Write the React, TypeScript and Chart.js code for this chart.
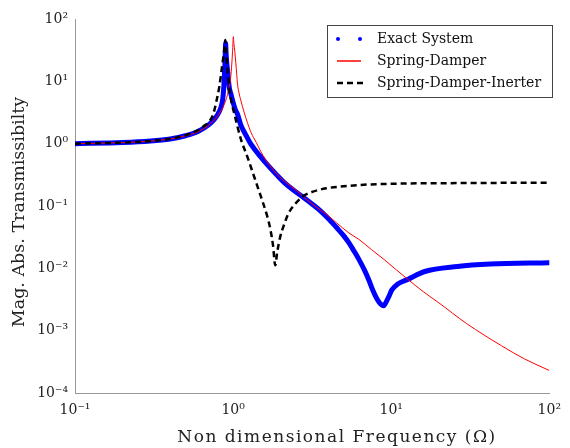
import React, { useEffect, useRef } from 'react';
import { Chart, registerables } from 'chart.js';

Chart.register(...registerables);

const FONT = "'DejaVu Serif', serif";

// Exact System
const exactOmega = [0.1, 0.2, 0.3, 0.4, 0.5, 0.6, 0.7, 0.76, 0.8, 0.84, 0.86, 0.873, 0.882, 0.889, 0.893, 0.897, 0.902, 0.91, 0.925, 0.946, 0.968, 1.0, 1.03, 1.07, 1.118, 1.2, 1.29, 1.49, 1.7, 1.893, 2.1, 2.406, 2.843, 3.2, 3.524, 4.0, 4.48, 5.0, 5.42, 5.8, 6.26, 6.8, 7.22, 7.7, 8.15, 8.6, 8.96, 9.3, 9.7, 10.1, 11, 12.8, 16.3, 26.2, 42.4, 100];
const exactMag = [1.0, 1.04, 1.1, 1.19, 1.34, 1.57, 2.0, 2.45, 2.95, 3.9, 5.2, 8, 13, 20, 30, 41, 30, 21, 14, 8, 6.3, 4.6, 3.6, 2.9, 2.0, 1.4, 1.0, 0.62, 0.42, 0.313, 0.24, 0.18, 0.132, 0.105, 0.086, 0.063, 0.046, 0.0335, 0.0254, 0.0192, 0.0138, 0.0092, 0.0065, 0.0043, 0.0032, 0.00266, 0.0025, 0.0029, 0.0036, 0.0045, 0.0056, 0.0067, 0.0089, 0.0107, 0.0117, 0.0123];

// Spring-Damper
const sdOmega = [0.1, 0.2, 0.3, 0.4, 0.5, 0.6, 0.7, 0.8, 0.85, 0.9, 0.946, 0.97, 0.985, 0.995, 1.003, 1.012, 1.025, 1.04, 1.054, 1.067, 1.09, 1.118, 1.174, 1.23, 1.3, 1.4, 1.5, 1.7, 1.9, 2.2, 2.5, 2.84, 3.3, 3.88, 4.5, 5.4, 6.26, 7.5, 9, 10.6, 12.8, 16, 20, 30, 50, 70, 100];
const sdMag = [1.0, 1.04, 1.1, 1.19, 1.33, 1.56, 1.97, 2.8, 3.6, 5.0, 8.2, 13, 22, 35, 52, 40, 30, 20, 13, 9, 6.5, 5.0, 3.2, 2.2, 1.5, 1.05, 0.74, 0.45, 0.32, 0.23, 0.18, 0.135, 0.1, 0.074, 0.054, 0.037, 0.029, 0.02, 0.0139, 0.0098, 0.0066, 0.0042, 0.0028, 0.0013, 0.00057, 0.00035, 0.00023];

// Spring-Damper-Inerter
const sdiOmega = [0.1, 0.2, 0.3, 0.4, 0.5, 0.6, 0.65, 0.71, 0.75, 0.78, 0.82, 0.848, 0.87, 0.885, 0.893, 0.9, 0.914, 0.93, 0.946, 0.98, 1.017, 1.118, 1.23, 1.355, 1.46, 1.564, 1.64, 1.72, 1.788, 1.848, 1.9, 1.986, 2.1, 2.239, 2.5, 2.778, 3.2, 3.88, 5, 6.26, 10.6, 20, 50, 100];
const sdiMag = [1.0, 1.04, 1.1, 1.2, 1.37, 1.65, 1.9, 2.3, 3.0, 4.5, 8.5, 16, 26, 38, 46, 35, 19.5, 12, 7.5, 4.5, 3.06, 1.2, 0.62, 0.302, 0.173, 0.103, 0.07, 0.0426, 0.0236, 0.0112, 0.018, 0.032, 0.05, 0.076, 0.112, 0.144, 0.17, 0.192, 0.207, 0.217, 0.228, 0.232, 0.235, 0.236];

const seriesLabels = ['Exact System', 'Spring-Damper', 'Spring-Damper-Inerter'];
const seriesColors = ['#0000ff', '#ff0000', '#000000'];
const xTickValues = [0.1, 1, 10, 100];
const yTickValues = [1e-4, 1e-3, 1e-2, 1e-1, 1, 10, 100];
const xTitle = 'Non dimensional Frequency (Ω)';
const yTitle = 'Mag. Abs. Transmissibilty';

const SUP: Record<string, string> = { '-': '⁻', '0': '⁰', '1': '¹', '2': '²', '3': '³', '4': '⁴', '5': '⁵', '6': '⁶', '7': '⁷', '8': '⁸', '9': '⁹' };
function powLabel(v: number): string {
  const e = Math.round(Math.log10(v));
  return '10' + String(e).split('').map((c) => SUP[c] || c).join('');
}

function toPoints(xs: number[], ys: number[]) {
  return xs.map((x, i) => ({ x, y: ys[i] }));
}

const axisTitles = {
  id: 'axisTitles',
  afterDraw(chart: any) {
    const ctx = chart.ctx as any;
    ctx.save();
    ctx.fillStyle = '#222222';
    ctx.textAlign = 'center';
    ctx.textBaseline = 'alphabetic';
    ctx.font = `17px ${FONT}`;
    if ('letterSpacing' in ctx) ctx.letterSpacing = '1.5px';
    ctx.fillText(xTitle, 337, 442);
    if ('letterSpacing' in ctx) ctx.letterSpacing = '0px';
    ctx.font = `17.5px ${FONT}`;
    ctx.translate(24, 212);
    ctx.rotate(-Math.PI / 2);
    ctx.fillText(yTitle, 0, 0);
    ctx.restore();
  },
};

const boxLegend = {
  id: 'boxLegend',
  afterDatasetsDraw(chart: any) {
    const ctx = chart.ctx as CanvasRenderingContext2D;
    const ds = chart.data.datasets;
    ctx.save();
    const x0 = 327.5, y0 = 25.5, w = 225, h = 72;
    ctx.fillStyle = '#ffffff';
    ctx.fillRect(x0, y0, w, h);
    ctx.strokeStyle = '#444444';
    ctx.lineWidth = 1;
    ctx.setLineDash([]);
    ctx.strokeRect(x0, y0, w, h);
    const rows = [39, 61, 83];
    const mx0 = 337, mx1 = 361, tx = 377;
    ctx.fillStyle = seriesColors[0];
    [338, 360].forEach((cx) => {
      ctx.beginPath();
      ctx.arc(cx, rows[0], 2, 0, Math.PI * 2);
      ctx.fill();
    });
    ctx.strokeStyle = seriesColors[1];
    ctx.lineWidth = 1.5;
    ctx.beginPath();
    ctx.moveTo(mx0, rows[1]);
    ctx.lineTo(mx1, rows[1]);
    ctx.stroke();
    ctx.strokeStyle = seriesColors[2];
    ctx.lineWidth = 2.5;
    ctx.setLineDash([6, 4]);
    ctx.beginPath();
    ctx.moveTo(mx0, rows[2]);
    ctx.lineTo(mx1 + 2, rows[2]);
    ctx.stroke();
    ctx.setLineDash([]);
    ctx.fillStyle = '#111111';
    ctx.font = `14px ${FONT}`;
    ctx.textBaseline = 'middle';
    ctx.textAlign = 'left';
    ds.forEach((d: any, i: number) => ctx.fillText(d.label, tx, rows[i]));
    ctx.restore();
  },
};

export default function App() {
  const ref = useRef<HTMLCanvasElement | null>(null);
  useEffect(() => {
    if (!ref.current) return;
    const chart = new Chart(ref.current, {
      type: 'line',
      data: {
        datasets: [
          {
            label: seriesLabels[0],
            data: toPoints(exactOmega, exactMag),
            borderColor: seriesColors[0],
            borderWidth: 5,
            pointRadius: 0,
            cubicInterpolationMode: 'monotone',
            borderJoinStyle: 'round',
            borderCapStyle: 'round',
            order: 3,
          },
          {
            label: seriesLabels[1],
            data: toPoints(sdOmega, sdMag),
            borderColor: seriesColors[1],
            borderWidth: 1,
            pointRadius: 0,
            cubicInterpolationMode: 'monotone',
            order: 2,
          },
          {
            label: seriesLabels[2],
            data: toPoints(sdiOmega, sdiMag),
            borderColor: seriesColors[2],
            borderWidth: 2.5,
            borderDash: [6, 4],
            pointRadius: 0,
            cubicInterpolationMode: 'monotone',
            order: 1,
          },
        ],
      } as any,
      options: {
        animation: false,
        responsive: false,
        maintainAspectRatio: false,
        layout: { padding: { top: 19, right: 13, left: 0, bottom: 0 } },
        plugins: { legend: { display: false }, tooltip: { enabled: false } },
        scales: {
          x: {
            type: 'logarithmic',
            min: 0.1,
            max: 100,
            afterBuildTicks: (s: any) => {
              s.ticks = xTickValues.map((v) => ({ value: v }));
            },
            afterFit: (s: any) => {
              s.height = 55;
            },
            ticks: {
              callback: (v: any) => powLabel(Number(v)),
              font: { family: FONT, size: 14 },
              color: '#222222',
              padding: 9,
              maxRotation: 0,
              autoSkip: false,
            },
            grid: { color: 'rgba(0,0,0,0)', drawTicks: false },
            border: { display: true, color: '#999999', width: 1 },
            title: { display: false },
          },
          y: {
            type: 'logarithmic',
            min: 1e-4,
            max: 100,
            afterBuildTicks: (s: any) => {
              s.ticks = yTickValues.map((v) => ({ value: v }));
            },
            afterFit: (s: any) => {
              s.width = 75;
            },
            ticks: {
              callback: (v: any) => powLabel(Number(v)),
              font: { family: FONT, size: 14 },
              color: '#222222',
              padding: 7,
              autoSkip: false,
            },
            grid: { color: 'rgba(0,0,0,0)', drawTicks: false },
            border: { display: true, color: '#999999', width: 1 },
            title: { display: false },
          },
        },
      } as any,
      plugins: [boxLegend, axisTitles],
    });
    return () => chart.destroy();
  }, []);
  return (
    <div style={{ position: 'absolute', left: 0, top: 0, width: 570, height: 448, background: '#ffffff' }}>
      <canvas ref={ref} width={570} height={448} style={{ display: 'block' }} />
    </div>
  );
}
